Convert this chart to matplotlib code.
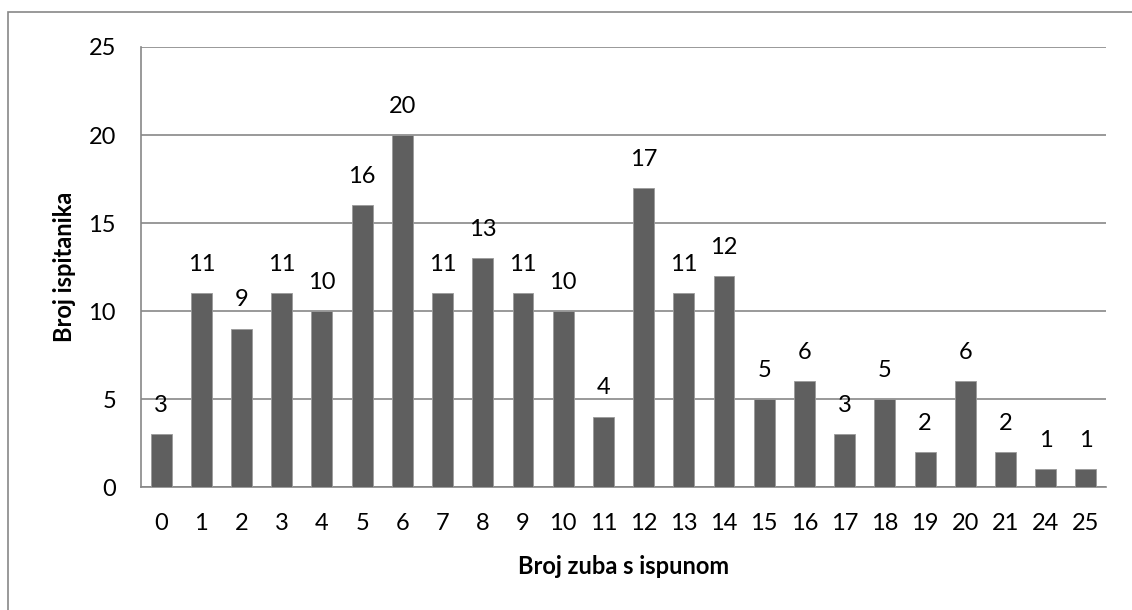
import matplotlib
matplotlib.use('Agg')
import matplotlib.pyplot as plt
from matplotlib.patches import Rectangle

teeth = ['0', '1', '2', '3', '4', '5', '6', '7', '8', '9', '10', '11', '12',
         '13', '14', '15', '16', '17', '18', '19', '20', '21', '24', '25']
counts = [3, 11, 9, 11, 10, 16, 20, 11, 13, 11, 10, 4, 17,
          11, 12, 5, 6, 3, 5, 2, 6, 2, 1, 1]
y_ticks = [0, 5, 10, 15, 20, 25]

plt.rcParams['font.family'] = ['Lato', 'DejaVu Sans']

fig = plt.figure(figsize=(11.32, 6.10), dpi=100)
ax = fig.add_axes([141 / 1132, 1 - 487 / 610, (1106 - 141) / 1132, (487 - 47) / 610])

x = list(range(len(teeth)))
bars = ax.bar(x, counts, width=0.52, color='#5f5f5f', edgecolor='#9a9a9a',
              linewidth=0.6, zorder=3)
for xi, v in zip(x, counts):
    ax.annotate(str(v), (xi, v), xytext=(0, 16), textcoords='offset points',
                ha='center', va='baseline', fontsize=17, color='black')

ax.set_xlim(-0.5, len(teeth) - 0.5)
ax.set_ylim(0, 25)
ax.set_xticks(x)
ax.set_xticklabels(teeth, fontsize=17)
ax.set_yticks(y_ticks)
ax.set_yticklabels([str(t) for t in y_ticks], fontsize=17)
ax.tick_params(length=0)
ax.tick_params(axis='x', pad=19)
ax.tick_params(axis='y', pad=18)
ax.yaxis.grid(True, color='#878787', linewidth=1.2, zorder=0)
ax.set_axisbelow(True)
for side in ['top', 'right']:
    ax.spines[side].set_visible(False)
for side in ['left', 'bottom']:
    ax.spines[side].set_color('#878787')
    ax.spines[side].set_linewidth(1.2)

ax.set_xlabel('Broj zuba s ispunom', fontsize=17, fontweight='bold', va='center')
ax.xaxis.set_label_coords(0.5, (487 - 566) / 440)
ax.set_ylabel('Broj ispitanika', fontsize=17, fontweight='bold', va='center')
ax.yaxis.set_label_coords((65 - 141) / 965, 0.5)

fig.patches.append(Rectangle((8 / 1132, -0.01), 1.1, 1 - 12 / 610 + 0.01,
                             transform=fig.transFigure, fill=False,
                             edgecolor='#878787', linewidth=1.2))

fig.savefig('out.png', dpi=100)
